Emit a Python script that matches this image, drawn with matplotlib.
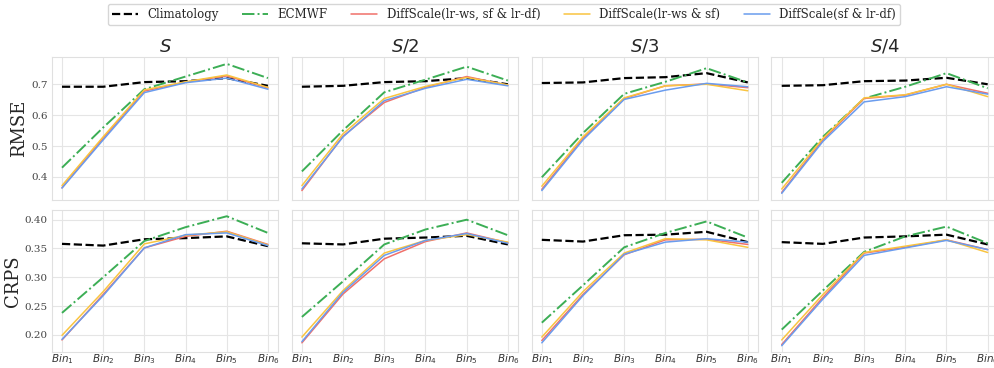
import matplotlib
matplotlib.use("Agg")
import matplotlib.pyplot as plt
import seaborn as sns
import numpy as np

bins = [r"$Bin_%d$" % i for i in range(1, 7)]
scales = [r"$S$", r"$S/2$", r"$S/3$", r"$S/4$"]
names = ["Climatology", "ECMWF", "DiffScale(lr-ws, sf & lr-df)",
         "DiffScale(lr-ws & sf)", "DiffScale(sf & lr-df)"]

# RMSE per scale: [clim, ecmwf, red, yellow, blue]
rmse_S = [[0.692, 0.692, 0.707, 0.710, 0.720, 0.695],
          [0.430, 0.560, 0.684, 0.725, 0.766, 0.720],
          [0.365, 0.525, 0.678, 0.707, 0.727, 0.688],
          [0.372, 0.530, 0.682, 0.708, 0.730, 0.690],
          [0.364, 0.520, 0.673, 0.705, 0.720, 0.684]]
rmse_S2 = [[0.692, 0.695, 0.707, 0.710, 0.720, 0.700],
           [0.418, 0.551, 0.674, 0.715, 0.757, 0.712],
           [0.356, 0.532, 0.641, 0.690, 0.725, 0.697],
           [0.372, 0.540, 0.654, 0.693, 0.722, 0.698],
           [0.361, 0.530, 0.647, 0.687, 0.716, 0.695]]
rmse_S3 = [[0.704, 0.706, 0.720, 0.723, 0.736, 0.706],
           [0.399, 0.542, 0.669, 0.708, 0.752, 0.706],
           [0.360, 0.525, 0.654, 0.695, 0.701, 0.689],
           [0.370, 0.530, 0.656, 0.695, 0.700, 0.679],
           [0.356, 0.520, 0.651, 0.681, 0.703, 0.692]]
rmse_S4 = [[0.695, 0.697, 0.710, 0.712, 0.721, 0.700],
           [0.381, 0.530, 0.654, 0.692, 0.736, 0.687],
           [0.350, 0.520, 0.654, 0.665, 0.700, 0.671],
           [0.361, 0.525, 0.656, 0.666, 0.700, 0.660],
           [0.347, 0.515, 0.643, 0.660, 0.692, 0.668]]

crps_S = [[0.358, 0.355, 0.366, 0.368, 0.371, 0.354],
          [0.238, 0.300, 0.363, 0.387, 0.406, 0.377],
          [0.191, 0.270, 0.351, 0.371, 0.380, 0.357],
          [0.199, 0.275, 0.358, 0.373, 0.379, 0.356],
          [0.192, 0.268, 0.351, 0.374, 0.377, 0.355]]
crps_S2 = [[0.359, 0.357, 0.367, 0.369, 0.372, 0.357],
           [0.231, 0.293, 0.357, 0.383, 0.400, 0.373],
           [0.186, 0.271, 0.332, 0.362, 0.377, 0.360],
           [0.196, 0.277, 0.342, 0.364, 0.374, 0.361],
           [0.188, 0.274, 0.338, 0.364, 0.376, 0.359]]
crps_S3 = [[0.365, 0.362, 0.373, 0.374, 0.379, 0.361],
           [0.221, 0.286, 0.352, 0.377, 0.397, 0.369],
           [0.190, 0.270, 0.339, 0.365, 0.366, 0.357],
           [0.196, 0.275, 0.342, 0.367, 0.365, 0.352],
           [0.186, 0.268, 0.340, 0.361, 0.367, 0.361]]
crps_S4 = [[0.361, 0.358, 0.369, 0.371, 0.374, 0.357],
           [0.209, 0.277, 0.344, 0.371, 0.388, 0.359],
           [0.183, 0.265, 0.342, 0.352, 0.365, 0.348],
           [0.191, 0.270, 0.343, 0.354, 0.365, 0.343],
           [0.181, 0.262, 0.338, 0.351, 0.364, 0.348]]

rmse = [rmse_S, rmse_S2, rmse_S3, rmse_S4]
crps = [crps_S, crps_S2, crps_S3, crps_S4]

colors = ["black", "#3cae55", "#f0706a", "#f9c440", "#6a9cee"]
styles = ["--", "-.", "-", "-", "-"]
widths = [1.6, 1.4, 1.1, 1.1, 1.1]

sns.set_style("whitegrid")
plt.rcParams["font.family"] = "serif"
plt.rcParams["mathtext.fontset"] = "dejavusans"

fig, axes = plt.subplots(2, 4, figsize=(9.94, 3.68), dpi=100, sharey="row")
fig.subplots_adjust(left=0.052, right=1.004, top=0.844, bottom=0.043,
                    wspace=0.059, hspace=0.07)

x = np.arange(len(bins))
for row, (data, label) in enumerate([(rmse, "RMSE"), (crps, "CRPS")]):
    for col in range(4):
        ax = axes[row, col]
        for k in range(5):
            ax.plot(x, data[col][k], color=colors[k], ls=styles[k],
                    lw=widths[k], label=names[k])
        ax.set_xticks(x)
        if row == 1:
            ax.set_xticklabels(bins, fontsize=7.5, color="#333333")
        else:
            ax.set_xticklabels([])
            ax.set_title(scales[col], fontsize=13, pad=4)
        ax.tick_params(axis="y", labelsize=7.5, colors="#444444", pad=3, length=0)
        ax.tick_params(axis="x", pad=0, length=0)
        for s in ax.spines.values():
            s.set_color("#e0e0e0")
        ax.grid(color="#e5e5e5", lw=0.8)
    axes[row, 0].set_ylabel(label, fontsize=13, labelpad=2)

axes[0, 0].set_yticks([0.4, 0.5, 0.6, 0.7])
axes[1, 0].set_yticks([0.20, 0.25, 0.30, 0.35, 0.40])
axes[1, 0].set_yticklabels(["0.20", "0.25", "0.30", "0.35", "0.40"])

h, l = axes[0, 0].get_legend_handles_labels()
fig.legend(h, l, loc="upper center", bbox_to_anchor=(0.507, 1.005), ncol=5,
           fontsize=8.5, frameon=True, handlelength=2.2, columnspacing=2.0,
           borderpad=0.35)

plt.savefig("out.png", dpi=100)
